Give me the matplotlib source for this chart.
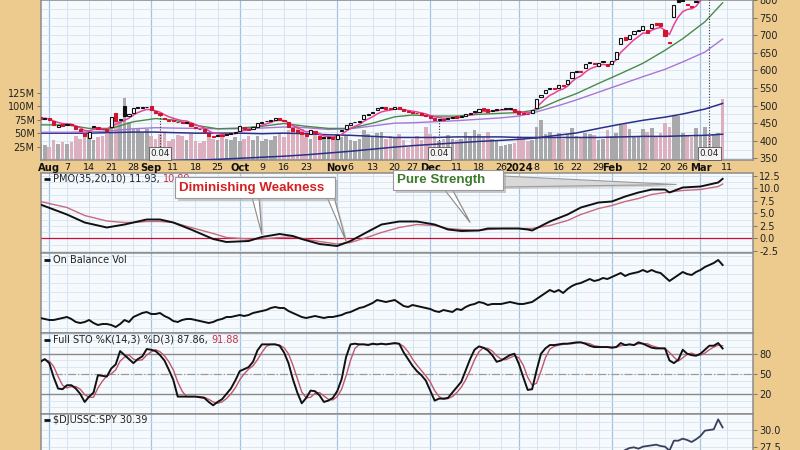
import numpy as np
import pandas as pd
import matplotlib
matplotlib.use('Agg')
import matplotlib.pyplot as plt
import matplotlib.transforms as mtransforms
from matplotlib.patches import Rectangle, Polygon

# -----------------------------------------------------------------------------
# data (daily, Jul 28 2023 -> Mar 8 2024)
# -----------------------------------------------------------------------------
close = [
    463, 466, 458, 444, 445, 443, 447, 445, 432, 428,
    414, 426, 441, 434, 432, 428, 468, 455, 462, 470,
    476, 492, 494, 495, 497, 486, 480, 474, 461, 457,
    455, 452, 450, 454, 441, 436, 432, 425, 412, 410,
    416, 414, 418, 421, 421, 442, 433, 431, 438, 450,
    453, 456, 459, 466, 459, 456, 440, 428, 424, 420,
    413, 430, 422, 405, 407, 408, 405, 416, 430, 445,
    450, 453, 456, 472, 477, 481, 493, 494, 491, 490,
    497, 490, 485, 482, 480, 478, 474, 470, 465, 460,
    463, 460, 465, 467, 466, 470, 476, 480, 482, 491,
    487, 482, 487, 488, 490, 490, 492, 481, 477, 476,
    475, 487, 520, 530, 544, 549, 548, 558, 555, 572,
    595, 597, 595, 618, 623, 618, 620, 624, 612, 628,
    652, 692, 686, 700, 712, 713, 726, 706, 731, 729,
    727, 697, 678, 785, 795, 797, 786, 780, 795, 830,
    850, 825, 850, 880, 860]

opens = [
    468, 463, 464, 455, 440, 448, 444, 446, 442, 434,
    422, 408, 440, 440, 434, 432, 440, 478, 458, 500,
    470, 478, 493, 494, 495, 498, 485, 479, 466, 460,
    458, 453, 452, 451, 450, 440, 434, 432, 420, 412,
    412, 416, 416, 418, 424, 428, 440, 432, 434, 440,
    450, 455, 456, 460, 466, 460, 452, 436, 430, 426,
    418, 418, 428, 414, 410, 407, 410, 405, 428, 434,
    446, 452, 454, 462, 474, 478, 486, 493, 495, 491,
    490, 496, 490, 484, 482, 479, 480, 474, 471, 466,
    458, 462, 462, 465, 470, 468, 470, 475, 481, 483,
    492, 490, 485, 488, 489, 490, 491, 490, 484, 478,
    476, 478, 492, 524, 536, 548, 550, 550, 556, 562,
    578, 596, 596, 606, 622, 622, 612, 623, 618, 618,
    632, 676, 694, 688, 704, 712, 716, 714, 720, 736,
    734, 716, 680, 752, 800, 800, 788, 782, 794, 805,
    835, 845, 835, 860, 885]

# volume in millions
volume = [
    30, 28, 24, 38, 30, 33, 30, 34, 45, 40,
    48, 55, 38, 42, 45, 48, 62, 80, 72, 115,
    70, 58, 60, 52, 58, 44, 40, 48, 52, 36,
    40, 46, 45, 38, 48, 35, 32, 36, 52, 40,
    38, 45, 40, 38, 42, 36, 40, 45, 38, 44,
    36, 40, 38, 44, 48, 42, 55, 60, 65, 58,
    42, 40, 48, 52, 42, 40, 45, 48, 42, 44,
    38, 35, 40, 55, 48, 42, 50, 52, 40, 45,
    42, 48, 38, 25, 40, 45, 38, 62, 48, 45,
    35, 40, 46, 40, 38, 40, 52, 44, 55, 48,
    42, 52, 40, 35, 26, 28, 30, 32, 45, 40,
    36, 38, 62, 75, 48, 52, 42, 50, 40, 48,
    60, 45, 42, 50, 48, 46, 38, 40, 56, 44,
    50, 66, 68, 58, 45, 44, 58, 52, 60, 45,
    50, 68, 62, 84, 82, 50, 45, 42, 60, 45,
    62, 45, 48, 50, 114]

# fast EMA (pink line)
ema_fast = [
    463, 464, 462, 456, 452, 449, 448, 447, 442, 437,
    429, 428, 432, 433, 433, 431, 443, 447, 452, 458,
    464, 473, 480, 485, 489, 488, 485, 481, 474, 468,
    464, 460, 457, 456, 451, 446, 441, 436, 428, 422,
    420, 418, 418, 419, 420, 427, 429, 430, 433, 439,
    444, 448, 452, 457, 458, 457, 451, 443, 437, 431,
    425, 427, 425, 418, 414, 412, 410, 412, 418, 427,
    435, 441, 446, 455, 462, 468, 476, 482, 485, 487,
    490, 490, 488, 486, 484, 482, 479, 476, 472, 468,
    466, 464, 464, 465, 465, 467, 470, 473, 476, 481,
    483, 483, 484, 485, 487, 488, 489, 486, 483, 481,
    479, 482, 495, 507, 519, 529, 535, 543, 547, 555,
    568, 578, 584, 595, 604, 609, 613, 617, 615, 619,
    630, 651, 663, 675, 687, 696, 706, 706, 714, 719,
    722, 714, 702, 730, 752, 767, 773, 775, 782, 798,
    815, 818, 829, 846, 851]

# slower averages, read weekly
ma_dates = ['2023-07-28', '2023-08-07', '2023-08-14', '2023-08-21', '2023-08-28',
            '2023-09-05', '2023-09-11', '2023-09-18', '2023-09-25', '2023-10-02',
            '2023-10-09', '2023-10-16', '2023-10-23', '2023-10-30', '2023-11-06',
            '2023-11-13', '2023-11-20', '2023-11-27', '2023-12-04', '2023-12-11',
            '2023-12-18', '2023-12-26', '2024-01-02', '2024-01-08', '2024-01-16',
            '2024-01-22', '2024-01-29', '2024-02-05', '2024-02-12', '2024-02-20',
            '2024-02-26', '2024-03-04', '2024-03-08']
sma20 = [445, 445, 435, 435, 454, 463, 459, 444, 434, 436, 441, 449, 441, 435, 435,
         450, 468, 473, 470, 470, 475, 478, 480, 488, 515, 534, 563, 591, 620, 657,
         690, 738, 792]
sma50 = [424, 424, 425, 428, 434, 437, 436, 435, 434, 434, 436, 439, 437, 432, 434,
         442, 450, 451, 454, 457, 461, 465, 470, 482, 500, 516, 538, 560, 582, 603,
         624, 652, 689]
sma200 = [330, 333, 336, 339, 341, 343, 344, 345, 347, 350, 353, 356, 360, 365, 370,
          376, 382, 386, 390, 394, 398, 401, 404, 408, 416, 422, 435, 447, 458, 467,
          476, 490, 506]
vol_sma = [50, 50, 50, 51, 52, 52, 51, 50, 50, 50, 49, 50, 49, 47, 46, 44, 42, 42,
           42, 43, 43, 43, 42, 42, 42, 42, 42, 43, 44, 44, 45, 46, 48]

# PMO(35,20,10)
pmo_dates = ['2023-07-28', '2023-08-07', '2023-08-11', '2023-08-18', '2023-08-24',
             '2023-08-28', '2023-08-31', '2023-09-06', '2023-09-11', '2023-09-15',
             '2023-09-22', '2023-09-27', '2023-10-04', '2023-10-09', '2023-10-13',
             '2023-10-18', '2023-10-20', '2023-10-26', '2023-11-01', '2023-11-06',
             '2023-11-10', '2023-11-15', '2023-11-21', '2023-11-28', '2023-12-04',
             '2023-12-07', '2023-12-12', '2023-12-18', '2023-12-20', '2023-12-26',
             '2024-01-02', '2024-01-04', '2024-01-05', '2024-01-11', '2024-01-18',
             '2024-01-23', '2024-01-29', '2024-02-01', '2024-02-06', '2024-02-09',
             '2024-02-14', '2024-02-20', '2024-02-21', '2024-02-26', '2024-03-01',
             '2024-03-07', '2024-03-08']
pmo = [6.8, 4.8, 3.2, 2.2, 2.8, 3.2, 3.8, 3.8, 3.2, 1.8,
       -0.1, -0.7, -0.5, 0.3, 0.9, 0.5, -0.1, -1.1, -1.5, -0.5,
       1.4, 2.8, 3.4, 3.4, 2.8, 1.8, 1.5, 1.6, 2.0, 2.0,
       2.0, 1.8, 1.6, 3.4, 4.8, 6.2, 7.2, 7.4, 8.4, 9.2,
       9.8, 9.8, 9.2, 10.2, 10.4, 11.2, 11.93]
pmo_signal = [7.4, 6.2, 4.6, 3.5, 3.2, 3.2, 3.4, 3.4, 3.2, 2.2,
              1.0, 0.2, -0.1, -0.1, 0.2, 0.3, 0.0, -0.6, -1.1, -0.8,
              0.3, 1.2, 2.2, 2.8, 2.6, 2.0, 1.8, 1.6, 1.8, 2.0,
              2.0, 2.0, 2.0, 2.6, 3.6, 4.8, 6.0, 6.6, 7.4, 8.0,
              8.8, 9.2, 9.3, 9.6, 9.8, 10.4, 10.89]

# On Balance Volume (no scale shown, relative units)
obv = [
    15, 14, 13, 13, 14, 15, 16, 14, 11, 10,
    11, 13, 10, 8, 9, 9, 8, 6, 9, 13,
    11, 16, 18, 20, 21, 19, 19, 20, 17, 15,
    12, 11, 13, 14, 14, 13, 12, 11, 10, 11,
    13, 14, 16, 16, 17, 18, 17, 18, 20, 21,
    22, 23, 25, 26, 25, 25, 22, 20, 18, 16,
    15, 16, 17, 16, 15, 16, 16, 17, 18, 20,
    21, 23, 25, 26, 28, 30, 33, 32, 31, 32,
    33, 30, 27, 26, 28, 27, 26, 25, 24, 22,
    21, 23, 22, 21, 24, 23, 26, 28, 29, 31,
    30, 28, 29, 29, 29, 30, 31, 30, 29, 29,
    30, 31, 34, 37, 40, 43, 41, 43, 40, 44,
    47, 49, 50, 52, 54, 52, 53, 55, 54, 56,
    58, 60, 57, 59, 60, 61, 63, 61, 63, 61,
    60, 56, 52, 55, 58, 61, 59, 58, 61, 63,
    66, 68, 70, 73, 68]

# Full STO %K(14,3) %D(3)
sto_k = [
    68, 72, 66, 45, 28, 27, 33, 33, 28, 20,
    8, 16, 22, 48, 47, 46, 58, 64, 84, 78,
    72, 66, 72, 76, 87, 86, 84, 78, 70, 56,
    41, 16, 16, 16, 16, 16, 15, 14, 8, 3,
    8, 12, 20, 28, 40, 54, 57, 60, 68, 85,
    94, 94, 94, 94, 92, 82, 66, 42, 22, 6,
    14, 25, 24, 18, 8, 10, 14, 24, 42, 75,
    94, 95, 94, 94, 93, 95, 94, 95, 94, 95,
    96, 95, 82, 72, 62, 54, 48, 40, 25, 10,
    13, 13, 14, 22, 30, 38, 55, 72, 86, 91,
    89, 85, 78, 68, 70, 74, 78, 80, 65, 45,
    26, 27, 55, 80, 88, 93, 93, 94, 95, 95,
    96, 97, 97, 95, 92, 90, 90, 90, 90, 89,
    90, 96, 93, 94, 93, 97, 95, 92, 89, 88,
    88, 88, 70, 66, 71, 86, 80, 78, 77, 80,
    86, 92, 92, 96, 87.86]
sto_d = [
    70, 71, 69, 61, 46, 33, 29, 31, 31, 27,
    19, 15, 15, 29, 39, 47, 50, 56, 69, 75,
    78, 72, 70, 71, 78, 83, 86, 83, 77, 68,
    56, 38, 24, 16, 16, 16, 16, 15, 12, 8,
    6, 8, 13, 20, 29, 41, 50, 57, 62, 71,
    82, 91, 94, 94, 93, 89, 80, 63, 43, 23,
    14, 15, 21, 22, 17, 12, 11, 16, 27, 47,
    70, 88, 94, 94, 94, 94, 94, 95, 94, 95,
    95, 95, 91, 83, 72, 63, 55, 47, 38, 25,
    16, 12, 13, 16, 22, 30, 41, 55, 71, 83,
    89, 88, 84, 77, 72, 71, 74, 77, 74, 63,
    45, 33, 36, 54, 74, 87, 91, 93, 94, 95,
    95, 96, 97, 96, 95, 92, 91, 90, 90, 90,
    90, 92, 93, 94, 93, 95, 95, 95, 92, 90,
    88, 88, 82, 75, 69, 74, 79, 81, 78, 78,
    81, 86, 90, 93, 91.88]

# $DJUSSC:SPY ratio, from Jan 31
ratio_start = '2024-01-31'
ratio = [25.5, 25.8, 26.2, 26.6, 27.0, 27.3, 27.4, 27.2, 27.5, 27.6,
         27.7, 27.8, 27.6, 27.5, 26.9, 28.4, 28.4, 28.7, 28.5, 28.2,
         28.6, 29.1, 29.9, 30.0, 30.1, 31.6, 30.39]

dividend_dates = ['2023-09-06', '2023-12-05', '2024-03-05']
dividend_text = '0.04'

tick_dates = ['2023-08-01', '2023-08-07', '2023-08-14', '2023-08-21', '2023-08-28',
              '2023-09-01', '2023-09-11', '2023-09-18', '2023-09-25', '2023-10-02',
              '2023-10-09', '2023-10-16', '2023-10-23', '2023-11-01', '2023-11-06',
              '2023-11-13', '2023-11-20', '2023-11-27', '2023-12-01', '2023-12-11',
              '2023-12-18', '2023-12-26', '2024-01-02', '2024-01-08', '2024-01-16',
              '2024-01-22', '2024-01-29', '2024-02-01', '2024-02-12', '2024-02-20',
              '2024-02-26', '2024-03-01', '2024-03-11']
tick_labels = ['Aug', '7', '14', '21', '28', 'Sep', '11', '18', '25', 'Oct',
               '9', '16', '23', 'Nov', '6', '13', '20', '27', 'Dec', '11',
               '18', '26', '2024', '8', '16', '22', '29', 'Feb', '12', '20',
               '26', 'Mar', '11']
month_labels = {'Aug', 'Sep', 'Oct', 'Nov', 'Dec', '2024', 'Feb', 'Mar'}

# -----------------------------------------------------------------------------
# trading calendar -> x positions
# -----------------------------------------------------------------------------
holidays = pd.to_datetime(['2023-09-04', '2023-11-23', '2023-12-25',
                           '2024-01-01', '2024-01-15', '2024-02-19'])
days = pd.bdate_range('2023-07-28', '2024-03-20')
days = days[~days.isin(holidays)]
day_idx = {d.strftime('%Y-%m-%d'): i for i, d in enumerate(days)}


def ix(dates):
    return np.array([day_idx[d] for d in dates])


n = len(close)
x = np.arange(n)
c = np.array(close, float)
o = np.array(opens, float)
prev = np.concatenate([[o[0]], c[:-1]])
is_down = c < prev

# -----------------------------------------------------------------------------
# colours / layout
# -----------------------------------------------------------------------------
TAN = '#EDCB8E'
PANEL = '#F7FAFD'
GRID = '#D0E0F0'
MGRID = '#A2C3E5'
BORDER = '#8C8C8C'
RED = '#D0142C'
NAVY = '#2B2F86'

W, H = 800, 450
XL = (0.14, 160.86)
tick_x = ix(tick_dates)
tick_month = [t in month_labels for t in tick_labels]


def rect(x0, y0, x1, y1):
    return [x0 / W, 1 - y1 / H, (x1 - x0) / W, (y1 - y0) / H]


fig = plt.figure(figsize=(8, 4.5), dpi=100, facecolor=TAN)


def panel(r, ylim, hgrid):
    ax = fig.add_axes(r)
    ax.set_facecolor(PANEL)
    for s in ax.spines.values():
        s.set_color(BORDER)
        s.set_linewidth(1.1)
    for p, m in zip(tick_x, tick_month):
        ax.axvline(p, color=MGRID if m else GRID, lw=0.9 if m else 0.6, zorder=0)
    for h in hgrid:
        ax.axhline(h, color=GRID, lw=0.5, zorder=0)
    ax.set_xlim(*XL)
    ax.set_ylim(*ylim)
    ax.set_xticks([])
    ax.yaxis.tick_right()
    ax.tick_params(axis='y', length=3, width=0.6, color='#666', labelsize=7,
                   pad=1.5, labelcolor='#222')
    return ax


def legend(ax, yfrac, text, extra=None, extra_color=None):
    ax.plot([0.004, 0.013], [yfrac, yfrac], transform=ax.transAxes,
            color='#111', lw=2, solid_capstyle='butt', zorder=6)
    t = ax.text(0.017, yfrac, text, transform=ax.transAxes, fontsize=7,
                color='#222', va='center', ha='left', zorder=6)
    if extra is not None:
        ax.annotate(extra, xy=(1, 0.5), xycoords=t, va='center', ha='left',
                    fontsize=7, color=extra_color, zorder=6)


# ---- price + volume panel ----
ax_v = panel(rect(41, 0, 753, 160), (0, 298), [])
ax_p = fig.add_axes(rect(41, 0, 753, 160))
ax_p.set_zorder(ax_v.get_zorder() + 1)
ax_p.patch.set_visible(False)
for s in ax_p.spines.values():
    s.set_visible(False)
ax_p.set_xlim(*XL)
ax_p.set_ylim(345.2, 800)

blend = mtransforms.blended_transform_factory(ax_v.transAxes, ax_p.transData)
for lv in range(350, 801, 25):
    ax_v.plot([0, 1], [lv, lv], transform=blend, color=GRID, lw=0.55, zorder=0)

vcol = np.where(is_down, '#DDB0C0', '#A9A9AB')
ax_v.bar(x, volume, width=0.82, color=vcol, linewidth=0, zorder=2)
ax_v.plot(ix(ma_dates), vol_sma, color=NAVY, lw=1.1, zorder=3)
ax_v.yaxis.tick_left()
ax_v.set_yticks([25, 50, 75, 100, 125])
ax_v.set_yticklabels(['25M', '50M', '75M', '100M', '125M'])
ax_v.set_ylim(0, 298)

ax_p.plot(ix(ma_dates), sma200, color=NAVY, lw=1.1, zorder=3)
ax_p.plot(ix(ma_dates), sma50, color='#A777D6', lw=1.0, zorder=3)
ax_p.plot(ix(ma_dates), sma20, color='#4A8A4A', lw=1.0, zorder=3)
ax_p.plot(x, ema_fast, color='#E8409A', lw=1.1, zorder=4)

edge = np.where(is_down, RED, '#111111')
face = [e if cc < oo else 'white' for e, cc, oo in zip(edge, c, o)]
ax_p.bar(x, np.maximum(np.abs(c - o), 2.2), bottom=np.minimum(o, c), width=0.7,
         color=face, edgecolor=edge, linewidth=0.8, zorder=5)

ax_p.yaxis.tick_right()
ax_p.set_yticks(range(350, 801, 50))
ax_p.tick_params(axis='y', length=3, width=0.6, color='#666', labelsize=7,
                 pad=1.5, labelcolor='#222')
ax_p.set_xticks(tick_x)
ax_p.set_xticklabels(tick_labels)
ax_p.tick_params(axis='x', length=0, pad=2.5, labelsize=6.8, labelcolor='#111')
for lab, m in zip(ax_p.get_xticklabels(), tick_month):
    if m:
        lab.set_fontweight('bold')
        lab.set_fontsize(7.2)

# dividend markers
ylo, yhi = ax_p.get_ylim()
box_top = ylo + 0.072 * (yhi - ylo)
dtrans = mtransforms.blended_transform_factory(ax_p.transData, ax_p.transAxes)
for d in dividend_dates:
    i = day_idx[d]
    ax_p.plot([i, i], [min(o[i], c[i], yhi + 50), box_top], color='#333',
              lw=0.8, ls=(0, (1, 1.5)), zorder=6, clip_on=True)
    ax_p.text(i, 0.042, dividend_text, transform=dtrans, ha='center', va='center',
              fontsize=6.3, color='#222', zorder=7,
              bbox=dict(boxstyle='square,pad=0.2', fc='#F4F4F4', ec='#555', lw=0.6))

# ---- PMO ----
ax_m = panel(rect(41, 173, 753, 253), (-2.9, 13.1), np.arange(-2.5, 13.0, 1.25))
ax_m.axhline(0, color='#C8103A', lw=0.9, zorder=2)
ax_m.plot(ix(pmo_dates), pmo_signal, color='#C76A7E', lw=1.0, zorder=3)
ax_m.plot(ix(pmo_dates), pmo, color='#111', lw=1.4, zorder=4)
ax_m.set_yticks(np.arange(-2.5, 12.6, 2.5))
ax_m.set_yticklabels([f'{v:.1f}' for v in np.arange(-2.5, 12.6, 2.5)])
legend(ax_m, 0.925, 'PMO(35,20,10) 11.93, ', '10.89', '#C0304A')

# ---- OBV ----
ax_o = panel(rect(41, 253, 753, 333), (0, 80), np.arange(5, 80, 9))
ax_o.plot(x, obv, color='#111', lw=1.4, zorder=4)
ax_o.set_yticks([])
legend(ax_o, 0.912, 'On Balance Vol')

# ---- STO ----
ax_s = panel(rect(41, 333, 753, 414), (-10, 111), np.arange(-10, 111, 10))
ax_s.axhline(80, color='#8A8A8A', lw=1.0, zorder=1)
ax_s.axhline(20, color='#8A8A8A', lw=1.0, zorder=1)
ax_s.axhline(50, color='#9A9A9A', lw=0.9, ls='-.', zorder=1)
ax_s.plot(x, sto_d, color='#C0566C', lw=1.0, zorder=3)
ax_s.plot(x, sto_k, color='#111', lw=1.4, zorder=4)
ax_s.set_yticks([20, 50, 80])
legend(ax_s, 0.914, 'Full STO %K(14,3) %D(3) 87.86, ', '91.88', '#C0304A')

# ---- ratio ----
ax_r = panel(rect(41, 414, 753, 490), (21.0, 32.4), np.arange(21.25, 32.4, 1.25))
r0 = day_idx[ratio_start]
ax_r.plot(np.arange(r0, r0 + len(ratio)), ratio, color='#3A3F5C', lw=1.3, zorder=4)
ax_r.set_yticks([27.5, 30.0])
ax_r.set_yticklabels(['27.5', '30.0'])
legend(ax_r, 0.92, r'\$DJUSSC:SPY 30.39')

# -----------------------------------------------------------------------------
# callouts (pixel overlay)
# -----------------------------------------------------------------------------
ov = fig.add_axes([0, 0, 1, 1])
ov.set_xlim(0, W)
ov.set_ylim(H, 0)
ov.axis('off')
ov.set_zorder(50)


def to_px(ax, xv, yv):
    dx, dy = ax.transData.transform((xv, yv))
    return dx, H - dy


def wedge(base, tip, fc='white', ec='#8A8A8A'):
    sh = [(bx + 2, by + 2) for bx, by in base] + [(tip[0] + 2, tip[1] + 2)]
    ov.add_patch(Polygon(sh, closed=True, fc='#B8B8B8', ec='none', alpha=0.6, zorder=1))
    ov.add_patch(Polygon(list(base) + [tip], closed=True, fc=fc, ec=ec, lw=0.8, zorder=2))


def callout(x0, y0, x1, y1, text, color):
    ov.add_patch(Rectangle((x0 + 3, y0 + 3), x1 - x0, y1 - y0, fc='#A8A8A8',
                           ec='none', alpha=0.6, zorder=3))
    ov.add_patch(Rectangle((x0, y0), x1 - x0, y1 - y0, fc='white',
                           ec='#9A9A9A', lw=0.8, zorder=4))
    ov.text(x0 + 4, (y0 + y1) / 2 + 0.5, text, color=color, fontsize=9.6,
            fontweight='bold', family='Liberation Sans', va='center', ha='left',
            zorder=5)


tips = {
    'dw1': to_px(ax_m, day_idx['2023-10-09'], 0.8),
    'dw2': to_px(ax_m, day_idx['2023-11-03'], -0.55),
    'ps1': to_px(ax_m, day_idx['2023-12-14'], 3.2),
    'ps2': to_px(ax_m, day_idx['2024-02-22'] + 0.6, 10.8),
}
wedge([(252, 197), (259, 197)], tips['dw1'])
wedge([(327, 197), (334, 197)], tips['dw2'])
wedge([(444, 189), (452, 189)], tips['ps1'])
wedge([(502, 176), (502, 187)], tips['ps2'], fc='#D9D9D9', ec='#9C9C9C')
callout(175, 177, 335, 198, 'Diminishing Weakness', '#D42020')
callout(393, 170, 503, 190, 'Pure Strength', '#3C7A2C')

fig.savefig('out.png', dpi=100, facecolor=fig.get_facecolor())
